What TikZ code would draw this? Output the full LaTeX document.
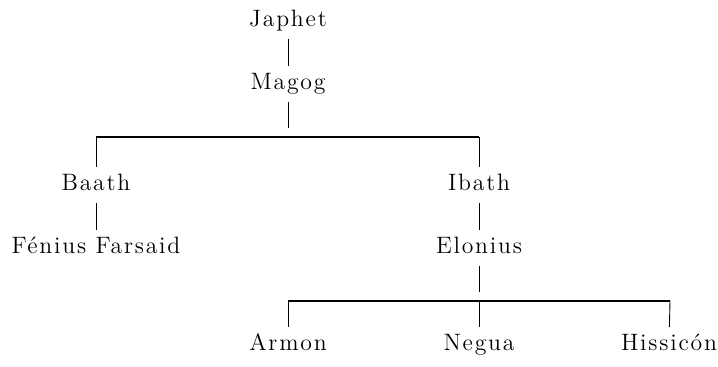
\documentclass[tikz,border=0pt]{standalone}
\usepackage{fontspec}
\setmainfont{Latin Modern Roman}
\usepackage{tikz}

\tikzset{
  person/.style={font=\fontsize{13.5}{16}\selectfont\addfontfeature{LetterSpace=7.5},
    text height=9pt, text depth=3pt, inner sep=4pt},
  kin/.style={line width=0.5pt},
  sibbar/.style={line width=1.1pt},
}

\begin{document}
\begin{tikzpicture}[x=0.02cm,y=-0.02cm]
\useasboundingbox (0,0) rectangle (718,367);

\node[person] (japhet) at (288,21) {Japhet};
\node[person] (magog) at (288,84) {Magog};
\node[person] (baath) at (96,185) {Baath};
\node[person] (ibath) at (479,185) {Ibath};
\node[person] (fenius) at (96,248) {Fénius Farsaid};
\node[person] (elonius) at (479,248) {Elonius};
\node[person] (armon) at (288,345) {Armon};
\node[person] (negua) at (479,345) {Negua};
\node[person] (hissicon) at (669,345) {Hissicón};

% sons of Magog
\coordinate (magogend) at (288,128);
\coordinate (barA) at (96,137);
\coordinate (barB) at (479,137);

% sons of Elonius
\coordinate (eloniusend) at (479,292);
\coordinate (barC) at (288,301);
\coordinate (barD) at (479,301);
\coordinate (barE) at (670,301);

\draw[kin] (japhet) -- (magog);
\draw[kin] (magog) -- (magogend);
\draw[sibbar] (barA) -- (barB);
\draw[kin] (barA) -- (baath);
\draw[kin] (barB) -- (ibath);
\draw[kin] (baath) -- (fenius);
\draw[kin] (ibath) -- (elonius);

\draw[kin] (elonius) -- (eloniusend);
\draw[sibbar] (barC) -- (barE);
\draw[kin] (barC) -- (armon);
\draw[kin] (barD) -- (negua);
\draw[kin] (barE) -- (hissicon);

\end{tikzpicture}
\end{document}
